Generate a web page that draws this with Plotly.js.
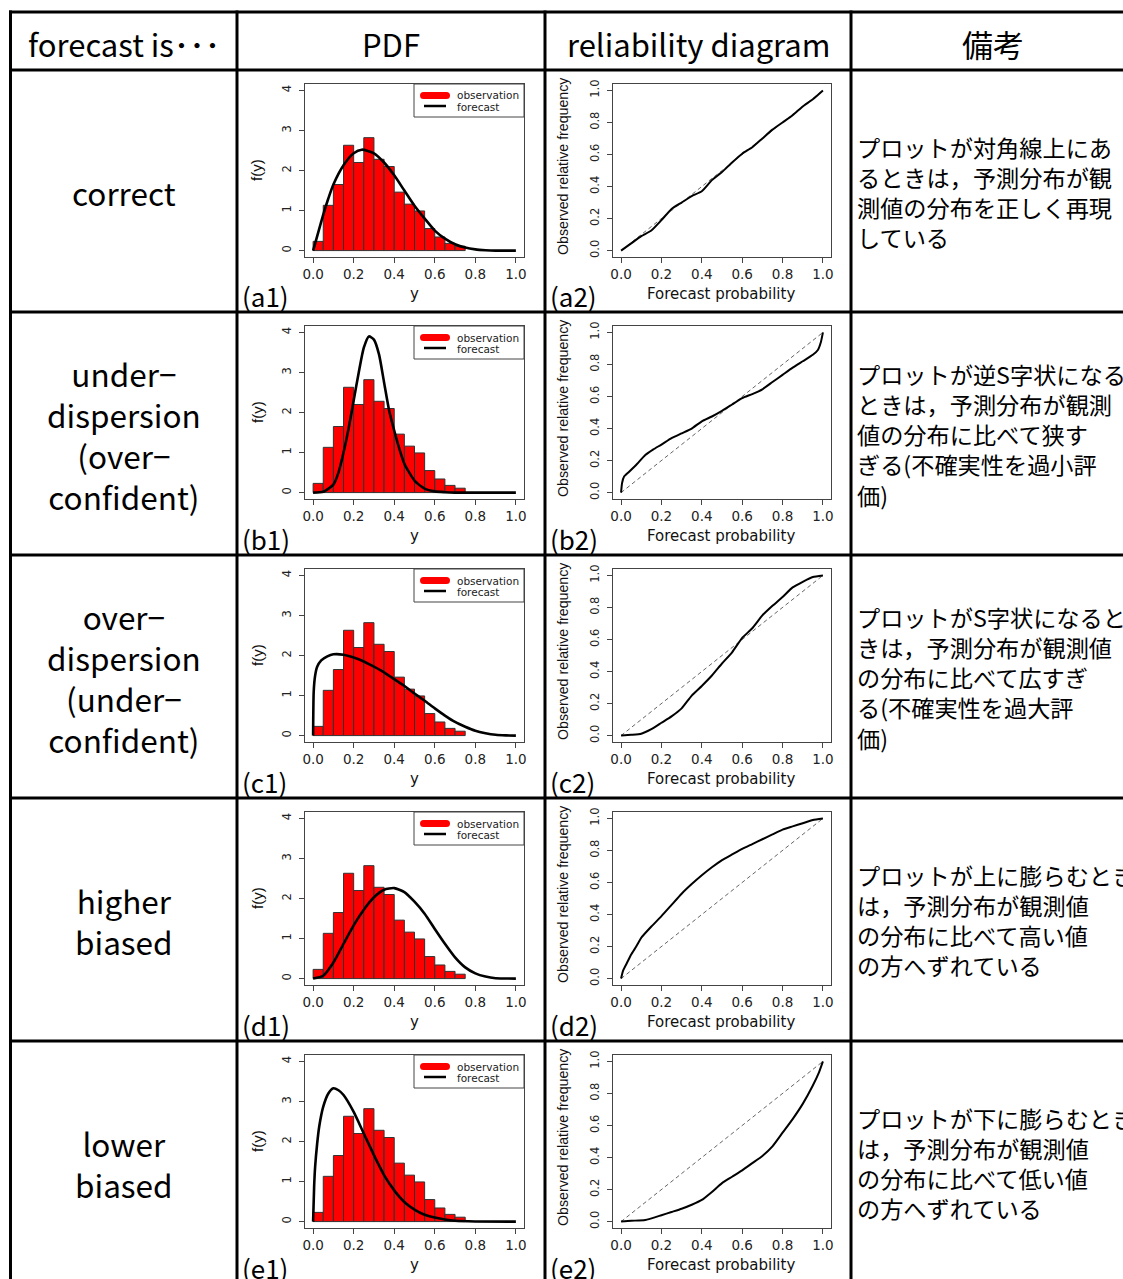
<!DOCTYPE html>
<html>
<head>
<meta charset="utf-8">
<script src="https://cdn.plot.ly/plotly-3.0.1.min.js"></script>
<style>html,body{margin:0;padding:0;background:#fff}</style>
</head>
<body>
<div id="chart" style="width:1123px;height:1279px"></div>
<script>
// ---------- data ----------
// observed histogram (density), bins of width 0.05 starting at binStart
const binWidth = 0.05;
const binStart = [0, 0.05, 0.10, 0.15, 0.20, 0.25, 0.30, 0.35, 0.40, 0.45, 0.50, 0.55, 0.60, 0.65, 0.70];
const obsDensity = [0.23, 1.13, 1.65, 2.63, 2.20, 2.82, 2.28, 2.10, 1.46, 1.16, 0.99, 0.55, 0.34, 0.18, 0.11];

// forecast PDFs
const pdfX_correct = [0, 0.025, 0.05, 0.075, 0.10, 0.15, 0.20, 0.24, 0.30, 0.35, 0.40, 0.45, 0.50, 0.55, 0.60, 0.65, 0.70, 0.75, 0.80, 0.85, 0.90, 1.00];
const pdfY_correct = [0, 0.45, 0.90, 1.30, 1.65, 2.13, 2.43, 2.52, 2.43, 2.20, 1.88, 1.50, 1.12, 0.80, 0.50, 0.30, 0.16, 0.075, 0.03, 0.01, 0, 0];

const pdfX_under = [0, 0.05, 0.10, 0.125, 0.15, 0.175, 0.20, 0.225, 0.25, 0.275, 0.30, 0.325, 0.35, 0.375, 0.40, 0.425, 0.45, 0.50, 0.55, 0.60, 0.65, 0.70, 1.00];
const pdfY_under = [0, 0.02, 0.20, 0.50, 1.00, 1.60, 2.30, 3.00, 3.62, 3.90, 3.82, 3.45, 2.75, 2.05, 1.55, 1.10, 0.72, 0.30, 0.10, 0.03, 0.01, 0, 0];

const pdfX_over = [0, 0.003, 0.01, 0.02, 0.04, 0.07, 0.10, 0.15, 0.20, 0.25, 0.30, 0.35, 0.40, 0.45, 0.50, 0.55, 0.60, 0.65, 0.70, 0.75, 0.80, 0.85, 0.90, 0.95, 1.00];
const pdfY_over = [0, 1.10, 1.50, 1.72, 1.88, 1.98, 2.03, 2.02, 1.95, 1.85, 1.72, 1.58, 1.41, 1.24, 1.05, 0.87, 0.68, 0.50, 0.34, 0.22, 0.12, 0.06, 0.02, 0.005, 0];

const pdfX_higher = [0, 0.05, 0.10, 0.15, 0.20, 0.25, 0.30, 0.35, 0.40, 0.45, 0.50, 0.55, 0.60, 0.65, 0.70, 0.75, 0.80, 0.85, 0.90, 1.00];
const pdfY_higher = [0, 0.07, 0.40, 0.87, 1.33, 1.72, 2.03, 2.22, 2.26, 2.16, 1.92, 1.62, 1.24, 0.87, 0.53, 0.28, 0.13, 0.05, 0.01, 0];

const pdfX_lower = [0, 0.005, 0.01, 0.02, 0.03, 0.05, 0.075, 0.10, 0.125, 0.15, 0.20, 0.25, 0.30, 0.35, 0.40, 0.45, 0.50, 0.55, 0.60, 0.65, 0.70, 0.80, 1.00];
const pdfY_lower = [0, 0.87, 1.37, 1.95, 2.37, 2.87, 3.20, 3.33, 3.28, 3.16, 2.74, 2.20, 1.66, 1.16, 0.78, 0.49, 0.30, 0.17, 0.10, 0.05, 0.02, 0.003, 0];

// reliability curves
const diagonal = [0, 1];

const relX_correct = [0, 0.05, 0.10, 0.15, 0.20, 0.25, 0.30, 0.35, 0.40, 0.45, 0.50, 0.55, 0.60, 0.65, 0.70, 0.75, 0.80, 0.85, 0.90, 0.95, 1.00];
const relY_correct = [0, 0.045, 0.09, 0.125, 0.19, 0.26, 0.30, 0.34, 0.37, 0.44, 0.49, 0.55, 0.605, 0.645, 0.70, 0.755, 0.80, 0.845, 0.90, 0.945, 1.00];

const relX_under = [0, 0.005, 0.015, 0.04, 0.08, 0.12, 0.16, 0.20, 0.25, 0.30, 0.35, 0.40, 0.45, 0.50, 0.55, 0.60, 0.65, 0.70, 0.75, 0.80, 0.85, 0.90, 0.95, 0.975, 0.99, 1.00];
const relY_under = [0, 0.06, 0.10, 0.13, 0.18, 0.235, 0.27, 0.30, 0.34, 0.37, 0.40, 0.445, 0.475, 0.51, 0.55, 0.59, 0.615, 0.645, 0.69, 0.735, 0.78, 0.82, 0.86, 0.89, 0.94, 1.00];

const relX_over = [0, 0.05, 0.10, 0.15, 0.20, 0.25, 0.30, 0.35, 0.40, 0.45, 0.50, 0.55, 0.60, 0.65, 0.70, 0.75, 0.80, 0.85, 0.90, 0.95, 1.00];
const relY_over = [0, 0.005, 0.012, 0.04, 0.08, 0.12, 0.17, 0.25, 0.31, 0.375, 0.45, 0.52, 0.61, 0.67, 0.75, 0.81, 0.865, 0.925, 0.96, 0.99, 1.00];

const relX_higher = [0, 0.01, 0.03, 0.05, 0.075, 0.10, 0.15, 0.20, 0.25, 0.30, 0.35, 0.40, 0.45, 0.50, 0.55, 0.60, 0.65, 0.70, 0.75, 0.80, 0.85, 0.90, 0.95, 1.00];
const relY_higher = [0, 0.05, 0.10, 0.15, 0.20, 0.255, 0.325, 0.39, 0.46, 0.53, 0.59, 0.645, 0.695, 0.74, 0.775, 0.81, 0.84, 0.87, 0.90, 0.93, 0.95, 0.97, 0.99, 1.00];

const relX_lower = [0, 0.05, 0.12, 0.20, 0.25, 0.30, 0.35, 0.40, 0.45, 0.50, 0.55, 0.60, 0.65, 0.70, 0.75, 0.80, 0.85, 0.90, 0.95, 0.98, 1.00];
const relY_lower = [0, 0.005, 0.01, 0.04, 0.06, 0.08, 0.105, 0.135, 0.185, 0.24, 0.28, 0.32, 0.365, 0.41, 0.47, 0.555, 0.64, 0.735, 0.85, 0.93, 1.00];

// tick labels
const pdfTickVals = [0, 1, 2, 3, 4];
const probTickVals = [0, 0.2, 0.4, 0.6, 0.8, 1.0];
const probTickText = ['0.0', '0.2', '0.4', '0.6', '0.8', '1.0'];

// table texts
const headers = ['forecast is･･･', 'PDF', 'reliability diagram', '備考'];
const caseLabels = [
  ['correct'],
  ['under−', 'dispersion', '(over−', 'confident)'],
  ['over−', 'dispersion', '(under−', 'confident)'],
  ['higher', 'biased'],
  ['lower', 'biased']
];
const remarks = [
  ['プロットが対角線上にあ', 'るときは，予測分布が観', '測値の分布を正しく再現', 'している'],
  ['プロットが逆S字状になる', 'ときは，予測分布が観測', '値の分布に比べて狭す', 'ぎる(不確実性を過小評', '価)'],
  ['プロットがS字状になると', 'きは，予測分布が観測値', 'の分布に比べて広すぎ', 'る(不確実性を過大評', '価)'],
  ['プロットが上に膨らむとき', 'は，予測分布が観測値', 'の分布に比べて高い値', 'の方へずれている'],
  ['プロットが下に膨らむとき', 'は，予測分布が観測値', 'の分布に比べて低い値', 'の方へずれている']
];
const panelIds = ['a', 'b', 'c', 'd', 'e'];

const pdfX = [pdfX_correct, pdfX_under, pdfX_over, pdfX_higher, pdfX_lower];
const pdfY = [pdfY_correct, pdfY_under, pdfY_over, pdfY_higher, pdfY_lower];
const relX = [relX_correct, relX_under, relX_over, relX_higher, relX_lower];
const relY = [relY_correct, relY_under, relY_over, relY_higher, relY_lower];

// ---------- layout helpers (pixel -> paper) ----------
const W = 1123, H = 1279;
const px = x => x / W;
const py = y => 1 - y / H;

const rowTops = [70, 312, 555, 798, 1041];
const colLines = [10.5, 237, 545, 851];
const JP = '"Noto Sans CJK JP", sans-serif';
const RFONT = '"DejaVu Sans", sans-serif';
const RFONT2 = '"Liberation Sans", Arial, sans-serif';

const traces = [];
const layout = {
  width: W, height: H,
  margin: {l: 0, r: 0, t: 0, b: 0},
  paper_bgcolor: '#fff', plot_bgcolor: '#fff',
  showlegend: false,
  shapes: [], annotations: []
};

function axisCommon() {
  return {
    showline: true, mirror: true, linecolor: '#444', linewidth: 1,
    ticks: 'outside', ticklen: 5, tickwidth: 1, tickcolor: '#444',
    showgrid: false, zeroline: false, fixedrange: true
  };
}

function addText(x, y, text, size, opts) {
  layout.annotations.push(Object.assign({
    xref: 'paper', yref: 'paper', x: px(x), y: py(y), text: text,
    showarrow: false, xanchor: 'center', yanchor: 'middle',
    font: {family: JP, size: size, color: '#000'}
  }, opts || {}));
}

function hLine(y, x0, x1, w) {
  layout.shapes.push({type: 'line', xref: 'paper', yref: 'paper',
    x0: px(x0), x1: px(x1), y0: py(y), y1: py(y), line: {color: '#000', width: w}});
}
function vLine(x, y0, y1, w) {
  layout.shapes.push({type: 'line', xref: 'paper', yref: 'paper',
    x0: px(x), x1: px(x), y0: py(y0), y1: py(y1), line: {color: '#000', width: w}});
}

// ---------- panels ----------
rowTops.forEach((top, r) => {
  const nh = 2 * r + 1, nr = 2 * r + 2;
  const yDom = [py(top + 187), py(top + 14)];

  // PDF panel
  layout['xaxis' + nh] = Object.assign(axisCommon(), {
    domain: [px(305), px(524)], range: [-0.04, 1.04], anchor: 'y' + nh,
    tickvals: probTickVals, ticktext: probTickText,
    tickfont: {family: RFONT, size: 13.5, color: '#222'}
  });
  layout['yaxis' + nh] = Object.assign(axisCommon(), {
    domain: yDom, range: [-0.16, 4.16], anchor: 'x' + nh,
    tickvals: pdfTickVals, tickangle: -90, ticklabelstandoff: 3,
    tickfont: {family: RFONT, size: 11.5, color: '#222'}
  });
  traces.push({
    type: 'bar', x: binStart, y: obsDensity, width: binWidth, offset: 0,
    marker: {color: '#ff0000', line: {color: '#333', width: 1}},
    xaxis: 'x' + nh, yaxis: 'y' + nh, name: 'observation', hoverinfo: 'skip'
  });
  traces.push({
    type: 'scatter', mode: 'lines', x: pdfX[r], y: pdfY[r],
    line: {color: '#000', width: 2.6, shape: 'spline', smoothing: 0.6},
    xaxis: 'x' + nh, yaxis: 'y' + nh, name: 'forecast', hoverinfo: 'skip'
  });

  // reliability panel
  layout['xaxis' + nr] = Object.assign(axisCommon(), {
    domain: [px(613), px(831)], range: [-0.04, 1.04], anchor: 'y' + nr,
    tickvals: probTickVals, ticktext: probTickText,
    tickfont: {family: RFONT, size: 13.5, color: '#222'}
  });
  layout['yaxis' + nr] = Object.assign(axisCommon(), {
    domain: yDom, range: [-0.04, 1.04], anchor: 'x' + nr,
    tickvals: probTickVals, ticktext: probTickText, tickangle: -90, ticklabelstandoff: 3,
    tickfont: {family: RFONT, size: 11.5, color: '#222'}
  });
  traces.push({
    type: 'scatter', mode: 'lines', x: diagonal, y: diagonal,
    line: {color: '#666', width: 1, dash: '4px,3px'},
    xaxis: 'x' + nr, yaxis: 'y' + nr, hoverinfo: 'skip'
  });
  traces.push({
    type: 'scatter', mode: 'lines', x: relX[r], y: relY[r],
    line: {color: '#000', width: 2, shape: 'spline', smoothing: 0.5},
    xaxis: 'x' + nr, yaxis: 'y' + nr, hoverinfo: 'skip'
  });

  // axis titles
  addText(414, top + 224, 'y', 15, {font: {family: RFONT, size: 15, color: '#111'}});
  addText(257, top + 100, 'f(y)', 14, {textangle: -90, font: {family: RFONT2, size: 15, color: '#111'}});
  addText(721, top + 224, 'Forecast probability', 15, {font: {family: RFONT, size: 15, color: '#111'}});
  addText(563, top + 96, 'Observed relative frequency', 14, {textangle: -90, font: {family: RFONT2, size: 14.2, color: '#111'}});

  // panel labels
  addText(240, top + 226, '(' + panelIds[r] + '1)', 26, {xanchor: 'left'});
  addText(548, top + 226, '(' + panelIds[r] + '2)', 26, {xanchor: 'left'});

  // legend box inside PDF panel
  layout.shapes.push({type: 'rect', xref: 'paper', yref: 'paper',
    x0: px(414), x1: px(524), y0: py(top + 47), y1: py(top + 14),
    line: {color: '#444', width: 1}, fillcolor: 'rgba(255,255,255,0)'});
  layout.shapes.push({type: 'line', xref: 'paper', yref: 'paper',
    x0: px(423.5), x1: px(446.5), y0: py(top + 25.5), y1: py(top + 25.5),
    line: {color: '#ff0000', width: 7}});
  [420, 443].forEach(cx => layout.shapes.push({type: 'circle', xref: 'paper', yref: 'paper',
    x0: px(cx), x1: px(cx + 7), y0: py(top + 29), y1: py(top + 22),
    line: {width: 0}, fillcolor: '#ff0000'}));
  layout.shapes.push({type: 'line', xref: 'paper', yref: 'paper',
    x0: px(424), x1: px(446), y0: py(top + 36), y1: py(top + 36),
    line: {color: '#000', width: 2.5}});
  addText(455, top + 25.5, 'observation', 10.5, {xanchor: 'left', font: {family: RFONT, size: 10.5, color: '#222'}});
  addText(455, top + 36.5, 'forecast', 10.5, {xanchor: 'left', font: {family: RFONT, size: 10.5, color: '#222'}});

  // left column label (one multi-line block per cell)
  addText(124, top + 122, caseLabels[r].join('<br>'), 31.5);

  // remarks column (one multi-line block per cell)
  addText(855, top + 122, remarks[r].join('<br>'), 23.2, {xanchor: 'left', align: 'left'});
});

// ---------- table grid ----------
hLine(12, colLines[0] - 1.5, W + 5, 3);
hLine(70, colLines[0] - 1.5, W + 5, 3);
rowTops.slice(1).forEach(y => hLine(y, colLines[0] - 1.5, W + 5, 3));
colLines.forEach(x => vLine(x, 10.5, H + 5, 3));

// header row
const headerCenters = [124, 391, 698, 993];
headers.forEach((t, i) => addText(headerCenters[i], 43, t, 31));

Plotly.newPlot('chart', traces, layout, {displayModeBar: false, staticPlot: true});
</script>
</body>
</html>
